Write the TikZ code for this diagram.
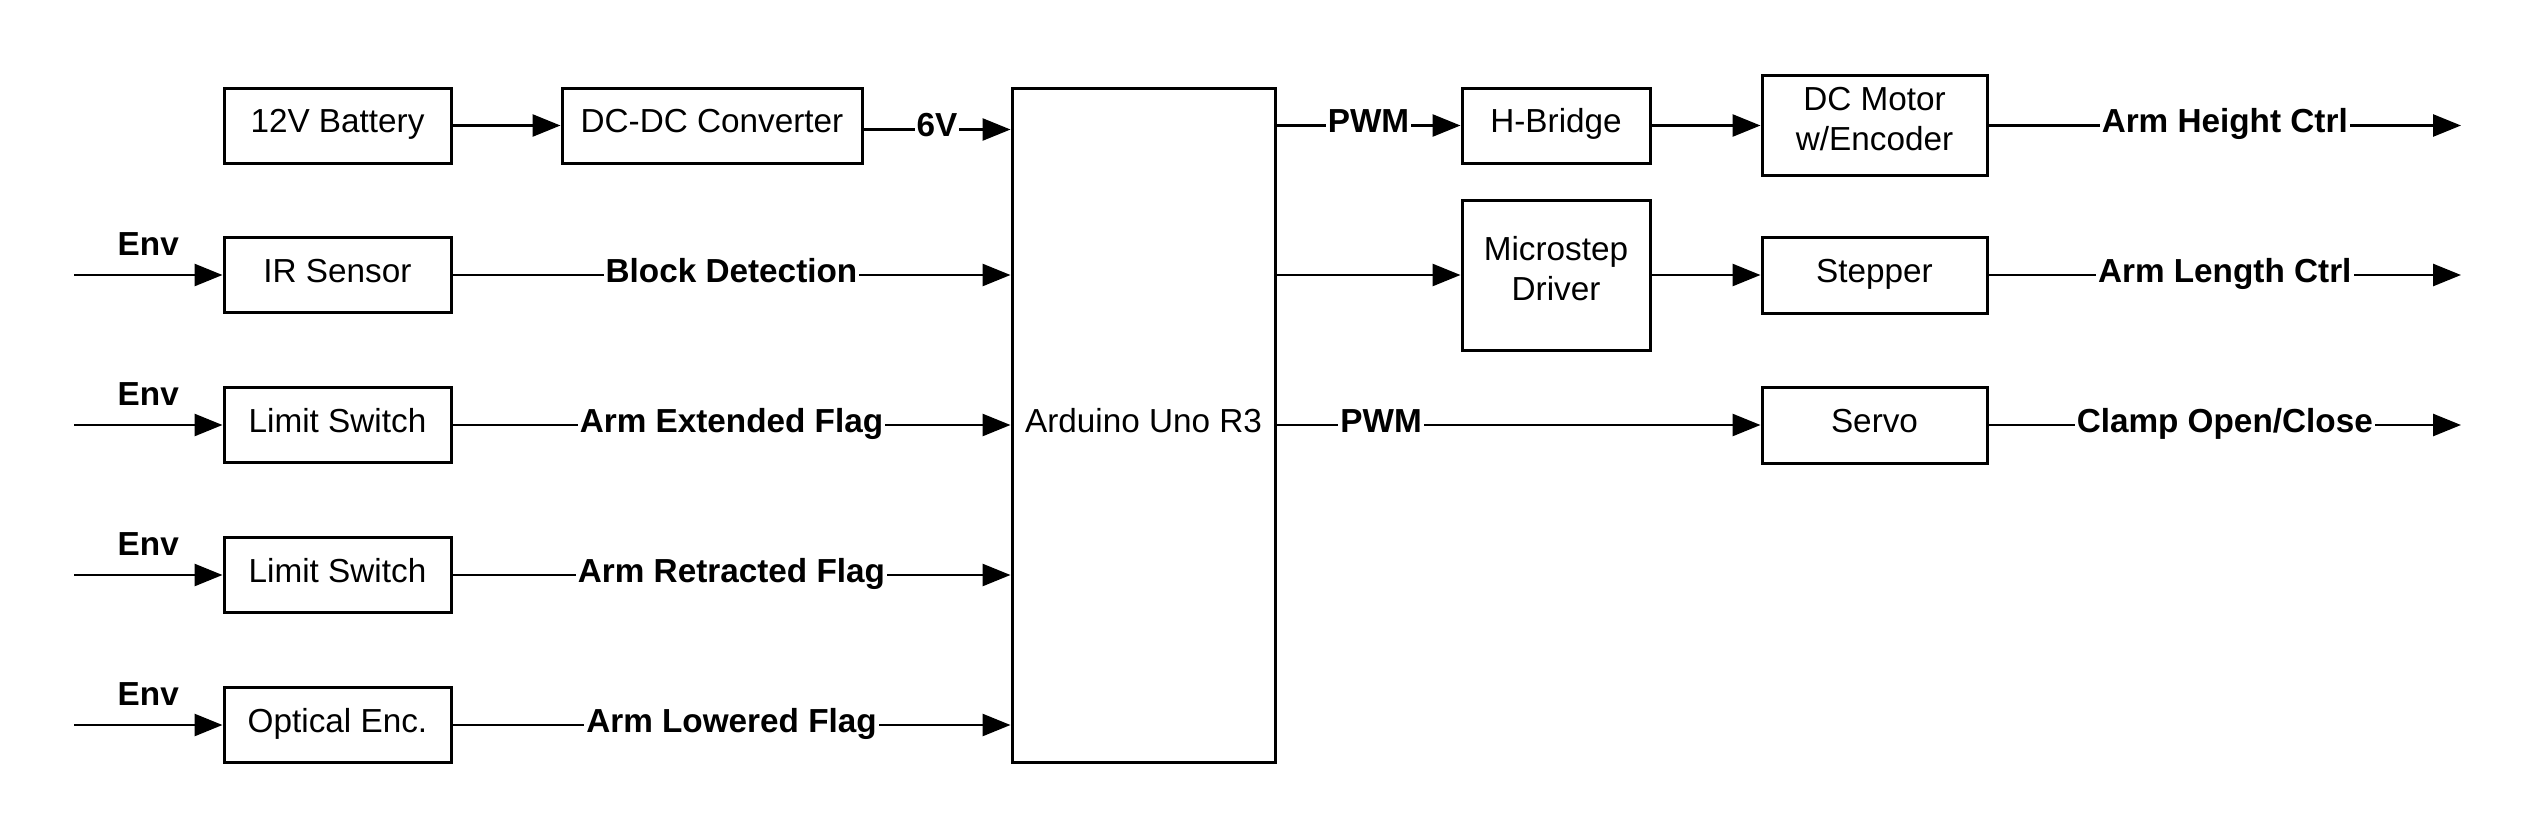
\documentclass[tikz,border=0pt]{standalone}
\usepackage{fontspec}
\setmainfont{Liberation Sans}
\usetikzlibrary{arrows.meta,calc}
\newcommand{\twoline}[2]{\raisebox{3pt}[\height][\depth]{\begin{tabular}{@{}c@{}}#1\\#2\end{tabular}}}
\begin{document}
\begin{tikzpicture}[x=1pt,y=-1pt,
  blkbase/.style={draw=black,line width=3pt,inner sep=0pt,align=center,
    font=\fontsize{33.3}{40}\selectfont},
  blk/.style={blkbase,text height=24pt,text depth=10pt},
  wire/.style={line width=2.7pt,-{Triangle[length=28pt,width=22pt]}},
  lbl/.style={fill=white,inner xsep=2pt,inner ysep=3pt,text height=24pt,text depth=10pt,
    font=\fontsize{33.3}{40}\selectfont\bfseries},
  envl/.style={anchor=base,inner sep=0pt,font=\fontsize{33.3}{40}\selectfont\bfseries}]
\useasboundingbox[fill=white] (0,0) rectangle (2531,838);
% boxes
\node[blk,minimum width=227pt,minimum height=75pt] (bat) at (337.5,125.5) {12V Battery};
\node[blk,minimum width=300pt,minimum height=75pt] (conv) at (712,125.5) {DC-DC Converter};
\node[blk,minimum width=227pt,minimum height=75pt] (ir) at (337.5,275) {IR Sensor};
\node[blk,minimum width=227pt,minimum height=75pt] (ls1) at (337.5,425) {Limit Switch};
\node[blk,minimum width=227pt,minimum height=75pt] (ls2) at (337.5,575) {Limit Switch};
\node[blk,minimum width=227pt,minimum height=75pt] (opt) at (337.5,725) {Optical Enc.};
\node[blkbase,minimum width=263pt,minimum height=674pt] (ard) at (1143.5,425) {};
\node[font=\fontsize{33.3}{40}\selectfont,inner sep=0pt] (ardt) at (ard.center |- 0,421) {Arduino Uno R3};
\node[blk,minimum width=188pt,minimum height=75pt] (hb) at (1556,125.5) {H-Bridge};
\node[blkbase,minimum width=225pt,minimum height=100pt] (dcm) at (1874.5,125) {\twoline{DC Motor}{w/Encoder}};
\node[blkbase,minimum width=188pt,minimum height=150pt] (msd) at (1556,275) {\twoline{Microstep}{Driver}};
\node[blk,minimum width=225pt,minimum height=76pt] (stp) at (1874.5,275) {Stepper};
\node[blk,minimum width=225pt,minimum height=76pt] (srv) at (1874.5,425) {Servo};
% free ends
\coordinate (in1) at (74,275);
\coordinate (in2) at (74,425);
\coordinate (in3) at (74,575);
\coordinate (in4) at (74,725);
\coordinate (out1) at (2461,125.5);
\coordinate (out2) at (2461,275);
\coordinate (out3) at (2461,425);
% power
\draw[wire] (bat.east) -- (conv.west);
\draw[wire] ([yshift=-4pt]conv.east) -- node[lbl] {6V} ([yshift=-4pt]conv.east -| ard.west);
% inputs
\foreach \i/\b in {in1/ir,in2/ls1,in3/ls2,in4/opt}{
  \draw[wire] (\i) -- (\b.west);
  \node[envl] at ($(\i)!0.5!(\b.west)+(0,-20)$) {Env};
}
\draw[wire] (ir.east) -- node[lbl] {Block Detection} (ir.east -| ard.west);
\draw[wire] (ls1.east) -- node[lbl] {Arm Extended Flag} (ls1.east -| ard.west);
\draw[wire] (ls2.east) -- node[lbl] {Arm Retracted Flag} (ls2.east -| ard.west);
\draw[wire] (opt.east) -- node[lbl] {Arm Lowered Flag} (opt.east -| ard.west);
% outputs
\draw[wire] (ard.east |- hb.west) -- node[lbl] {PWM} (hb.west);
\draw[wire] (hb.east) -- (dcm.west |- hb.east);
\draw[wire] (dcm.east |- out1) -- node[lbl] {Arm Height Ctrl} (out1);
\draw[wire] (ard.east |- msd.west) -- (msd.west);
\draw[wire] (msd.east) -- (stp.west);
\draw[wire] (stp.east) -- node[lbl] {Arm Length Ctrl} (out2);
\draw[wire] (ard.east |- srv.west) -- node[lbl,pos=0.216] {PWM} (srv.west);
\draw[wire] (srv.east) -- node[lbl] {Clamp Open/Close} (out3);
\end{tikzpicture}
\end{document}
